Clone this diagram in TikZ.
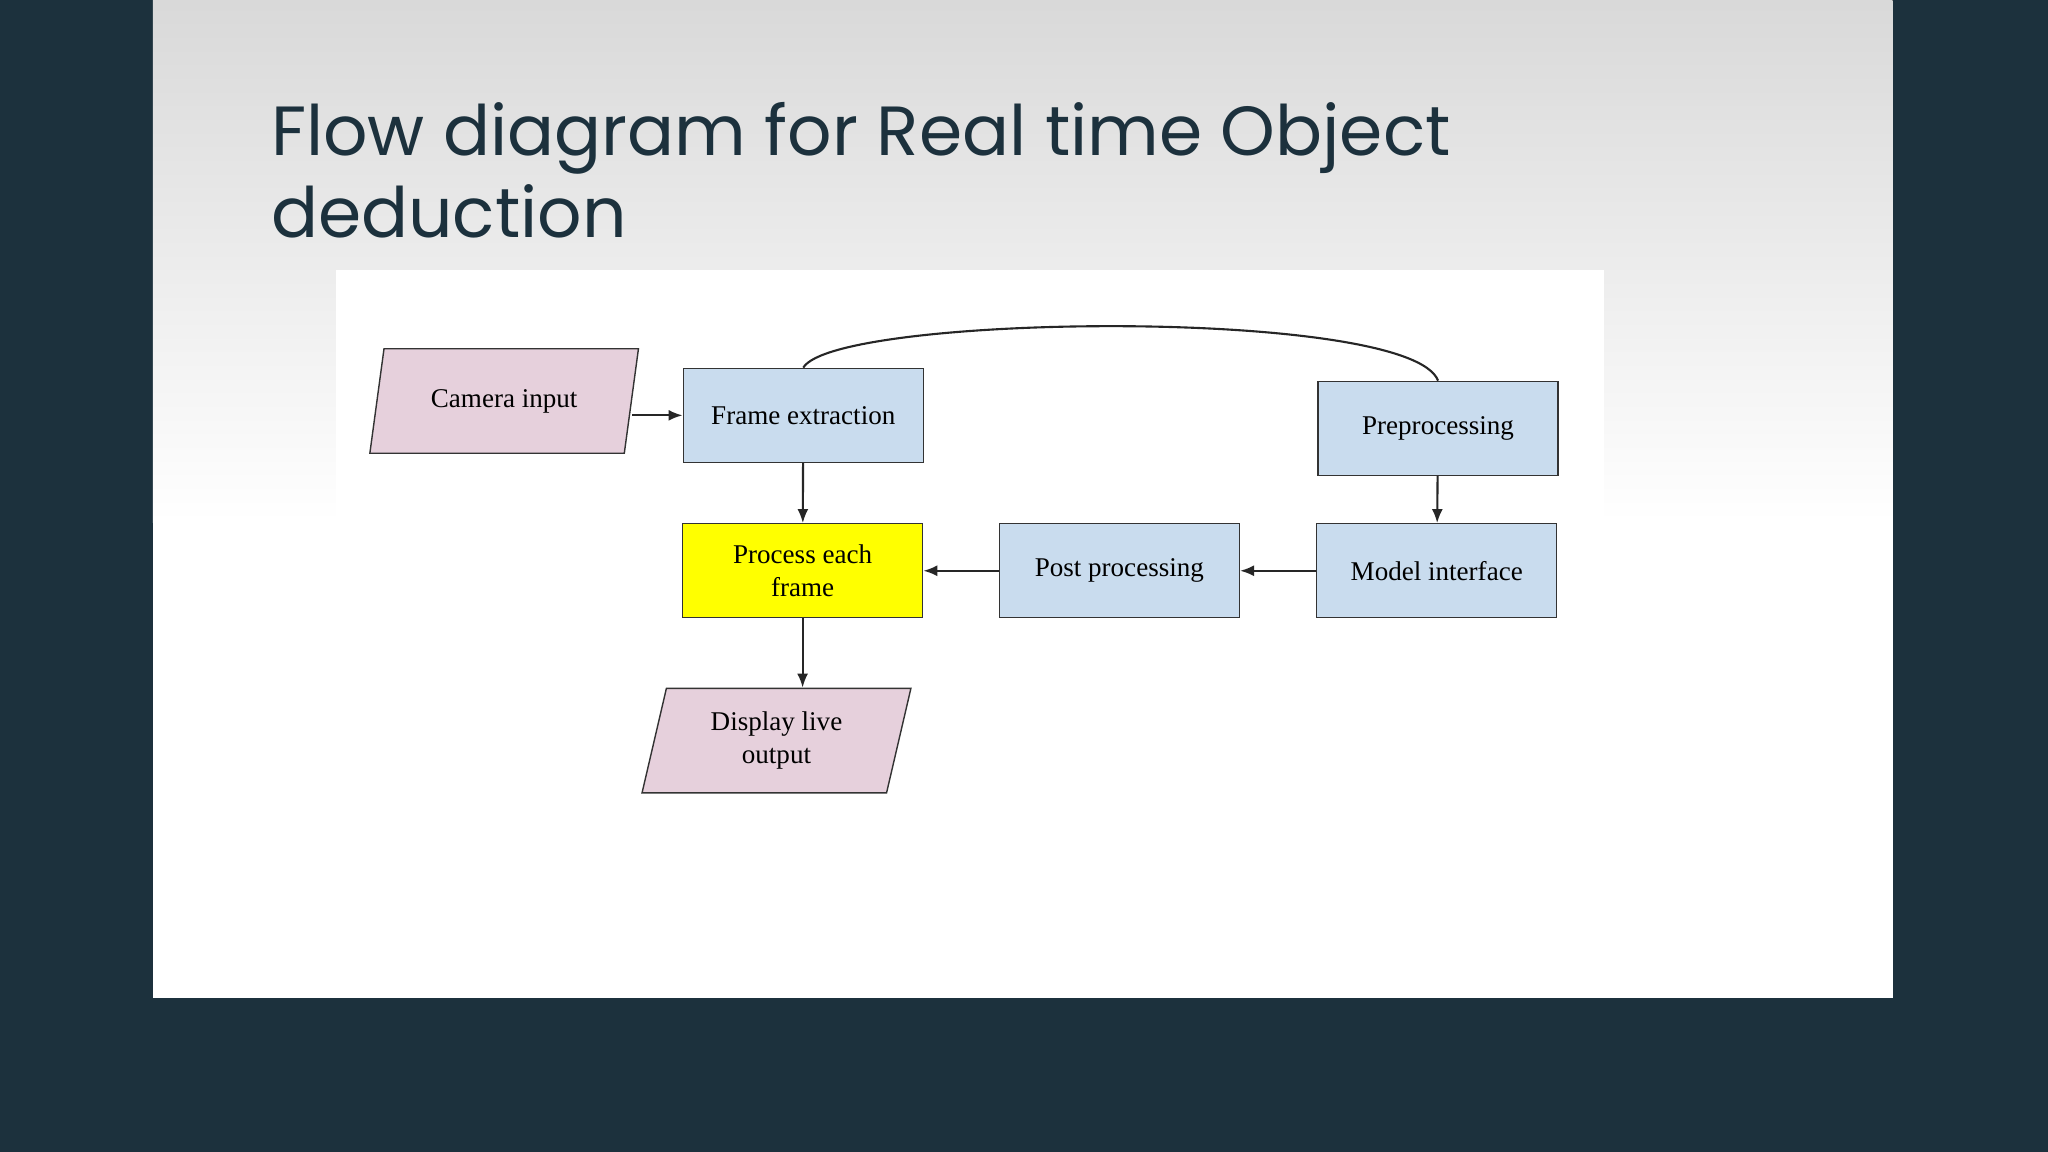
\documentclass[tikz,border=0pt]{standalone}
\usepackage{fontspec}
\setmainfont{Liberation Serif}
\newfontfamily\titlefont{Poppins}
\usetikzlibrary{shapes.geometric,arrows.meta}
\definecolor{slatebg}{HTML}{1C313D}
\definecolor{pinkbox}{HTML}{E6D0DC}
\definecolor{bluebox}{HTML}{C9DCEE}
\definecolor{yellowbox}{HTML}{FFFF00}
\tikzset{
  stepbox/.style={draw=black!80, fill=bluebox, minimum width=2.40cm, minimum height=0.94cm,
    align=center, font=\fontsize{7.7}{9.3}\selectfont},
  iobox/.style={trapezium, trapezium left angle=78, trapezium right angle=102,
    trapezium stretches=true, draw=black!80, fill=pinkbox, minimum width=2.70cm,
    minimum height=1.045cm, align=center, font=\fontsize{7.7}{9.3}\selectfont},
  flow/.style={-{Latex[length=1.4mm,width=1.1mm]}, black!85, semithick}
}
\begin{document}
\begin{tikzpicture}[x=0.013061cm, y=-0.013061cm]
    \useasboundingbox (0,0) rectangle (1568,882);
    \fill[slatebg] (0,0) rectangle (1568,882);
    % slide
    \fill[top color=black!15, bottom color=white] (117,0) rectangle (1449,400);
    \fill[white] (117,399) rectangle (1449,764);
    \node[anchor=base west, inner sep=0, text=slatebg, align=left,
      font=\titlefont\fontsize{19.8}{23.5}\selectfont] (title) at (207,182)
      {Flow diagram for Real time Object\\deduction};
    \fill[white] (257,207) rectangle (1228,400);

    % nodes
    \node[iobox] (cam) at (386,307) {Camera input};
    \node[stepbox] (frame) at (615,318) {Frame extraction};
    \node[stepbox] (pre) at (1101,328) {Preprocessing};
    \node[stepbox, fill=yellowbox] (proc) at (614.5,437) {Process each\\frame};
    \node[stepbox] (post) at (857,437) {Post processing};
    \node[stepbox] (model) at (1100,437) {Model interface};
    \node[iobox] (disp) at (594.5,567) {Display live\\output};

    % connectors
    \draw[flow] (cam.east |- frame.west) -- (frame.west);
    \draw[flow] (frame) -- (proc);
    \draw[flow] (pre) -- (model);
    \draw[flow] (model) -- (post);
    \draw[flow] (post) -- (proc);
    \draw[flow] (proc) -- (disp.north -| proc.south);
    \draw[black!85, semithick] (frame.north) .. controls (640,240) and (1080,235) .. (pre.north);
\end{tikzpicture}
\end{document}
